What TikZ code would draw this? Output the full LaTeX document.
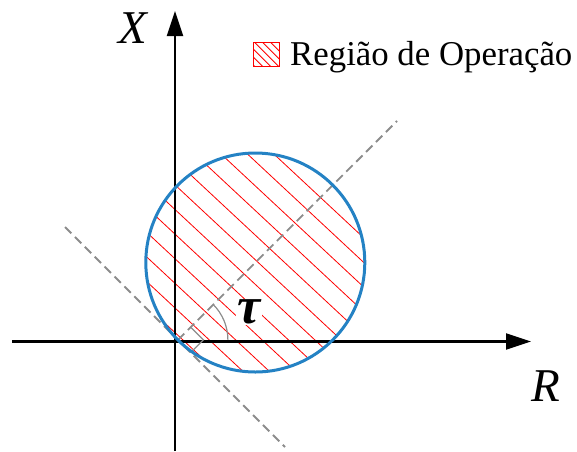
\documentclass[tikz,border=0pt]{standalone}
\usepackage{fontspec}
\setmainfont{Liberation Serif}
\usetikzlibrary{arrows.meta,calc}
\definecolor{circblue}{RGB}{36,130,196}
\definecolor{dashgray}{RGB}{140,140,140}
\begin{document}
\begin{tikzpicture}[x=1pt,y=1pt,
  axis/.style={line width=2.2pt,-{Triangle[length=25pt,width=16pt]}},
  hatch/.style={red,line width=0.8pt},
  guide/.style={dashgray,line width=1.8pt,dash pattern=on 9pt off 5pt},
  marker/.style={dashgray,line width=1.2pt},
  lbl/.style={inner sep=0pt}]
\useasboundingbox (0,-451) rectangle (577,0);
\coordinate (C) at (255.3,-262.5);
\coordinate (T) at (177.9,-339.9);
% hatching of the region
\begin{scope}
  \clip (C) circle (109.5);
  \begin{scope}[shift={(255.3,-262.5)},rotate=-43]
    \foreach \k in {-7,...,7} \draw[hatch] (-140,\k*18+2) -- (140,\k*18+2);
  \end{scope}
\end{scope}
% axes
\coordinate (xs) at (12,-341.5);
\coordinate (xe) at (531,-341.5);
\coordinate (ys) at (175,-451);
\coordinate (ye) at (175,-11);
\draw[axis] (xs) -- (xe);
\draw[axis] (ys) -- (ye);
% guides
\coordinate (D1) at (397,-121);
\coordinate (L1) at (65,-227);
\coordinate (L2) at (285,-447);
\draw[guide] (T) -- (D1);
\draw[guide] (L1) -- (L2);
\draw[marker] ($(T)+(12.7,12.7)$) -- ($(T)+(25.5,0)$) -- ($(T)+(12.7,-12.7)$);
\draw[marker] ($(T)+(50,0)$) arc[start angle=0,end angle=45,radius=50];
% circle
\draw[circblue,line width=3pt] (C) circle (109.5);
% labels
\node[lbl,fill=white,inner sep=1pt] (tau) at (249,-312) {\fontsize{52}{52}\selectfont\bfseries\itshape τ};
\node[lbl,anchor=base] (xl) at (133,-43.5) {\fontsize{47}{50}\selectfont\itshape X};
\node[lbl,anchor=base] (rl) at (546,-401) {\fontsize{47}{50}\selectfont\itshape R};
% legend
\coordinate (b1) at (253.5,-42.5);
\coordinate (b2) at (279.5,-66);
\begin{scope}
  \clip (b1) rectangle (b2);
  \foreach \k in {-3,...,3} \draw[hatch] ($(266.5,-54.25)+(\k*8,0)+(-20,20)$) -- ++(40,-40);
\end{scope}
\draw[red,line width=1pt] (b1) rectangle (b2);
\node[lbl,anchor=base west] (leg) at (290,-65.5) {\fontsize{34.8}{40}\selectfont Região de Operação};
\end{tikzpicture}
\end{document}
